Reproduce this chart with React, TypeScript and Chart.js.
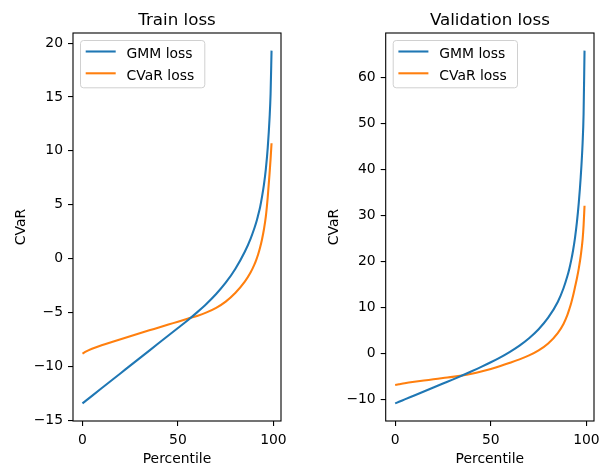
import React, { useEffect, useRef } from 'react';
import { Chart, registerables } from 'chart.js';

Chart.register(...registerables);

// ---- data ----
const PERCENTILES = [0, 2, 5, 10, 15, 20, 25, 30, 35, 40, 45, 50, 55, 60, 65, 70, 75, 80, 85, 88, 90, 91, 92, 93, 94, 95, 96, 97, 98, 98.5, 99];
const TRAIN_GMM = [-13.45, -13.17, -12.75, -12.05, -11.35, -10.65, -9.95, -9.25, -8.55, -7.85, -7.15, -6.45, -5.75, -5.0, -4.2, -3.3, -2.25, -0.97, 0.63, 1.83, 2.81, 3.36, 4.04, 4.76, 5.72, 6.84, 8.28, 10.27, 13.16, 15.3, 19.3];
const TRAIN_CVAR = [-8.83, -8.62, -8.38, -8.06, -7.77, -7.49, -7.21, -6.94, -6.67, -6.4, -6.13, -5.87, -5.6, -5.33, -5.0, -4.58, -4.0, -3.2, -2.15, -1.31, -0.57, -0.12, 0.4, 1.02, 1.77, 2.69, 3.89, 5.69, 7.99, 9.25, 10.7];
const VAL_GMM = [-10.8, -10.46, -9.94, -9.08, -8.22, -7.36, -6.5, -5.64, -4.74, -3.82, -2.87, -1.87, -0.8, 0.4, 1.75, 3.35, 5.3, 7.8, 11.2, 14.2, 16.8, 18.35, 20.2, 22.4, 25.1, 28.5, 32.8, 38.3, 45.8, 52.0, 65.8];
const VAL_CVAR = [-6.8, -6.65, -6.43, -6.12, -5.84, -5.58, -5.3, -5.05, -4.75, -4.35, -3.87, -3.32, -2.7, -2.0, -1.25, -0.38, 0.72, 2.22, 4.47, 6.45, 8.35, 9.6, 10.95, 12.55, 14.4, 16.3, 18.5, 21.2, 24.8, 27.8, 32.1];

const X_TICKS = [0, 50, 100];
const TRAIN_Y_TICKS = [-15, -10, -5, 0, 5, 10, 15, 20];
const VAL_Y_TICKS = [-10, 0, 10, 20, 30, 40, 50, 60];
const SERIES_LABELS = ['GMM loss', 'CVaR loss'];
const TITLES = ['Train loss', 'Validation loss'];
const X_LABEL = 'Percentile';
const Y_LABEL = 'CVaR';
const COLORS = ['#1f77b4', '#ff7f0e'];

// ---- styling ----
const W = 300;
const H = 466;
const FONT = '"DejaVu Sans", "Liberation Sans", sans-serif';
const TICK_PX = 13.9;
const TITLE_PX = 16.7;

const fmt = (v: number) => (v < 0 ? '\u2212' + Math.abs(v) : String(v));

function limits(arrs: number[][]) {
  let mn = Infinity;
  let mx = -Infinity;
  arrs.forEach((a) => a.forEach((v) => { mn = Math.min(mn, v); mx = Math.max(mx, v); }));
  const m = (mx - mn) * 0.05;
  return [mn - m, mx + m];
}

type Area = { left: number; top: number; right: number; bottom: number };
type Panel = {
  title: string;
  gmm: number[];
  cvar: number[];
  yTicks: number[];
  area: Area;
  yLabelX: number;
};

function decorPlugin(p: Panel) {
  return {
    id: 'decor',
    afterDraw(chart: any) {
      const ctx = chart.ctx as CanvasRenderingContext2D;
      const a = chart.chartArea;
      ctx.save();
      // frame
      ctx.strokeStyle = '#000';
      ctx.lineWidth = 1.1;
      ctx.strokeRect(a.left, a.top, a.right - a.left, a.bottom - a.top);
      // title
      ctx.fillStyle = '#000';
      ctx.font = `${TITLE_PX}px ${FONT}`;
      ctx.textAlign = 'center';
      ctx.textBaseline = 'alphabetic';
      ctx.fillText(p.title, (a.left + a.right) / 2, a.top - 8.5);
      // x label
      ctx.font = `${TICK_PX}px ${FONT}`;
      ctx.fillText(X_LABEL, (a.left + a.right) / 2, 462.5);
      // y label
      ctx.save();
      ctx.translate(p.yLabelX, (a.top + a.bottom) / 2);
      ctx.rotate(-Math.PI / 2);
      ctx.textAlign = 'center';
      ctx.textBaseline = 'alphabetic';
      ctx.fillText(Y_LABEL, 0, 0);
      ctx.restore();
      // legend
      const bx = a.left + 7;
      const by = 40;
      const bw = 124.3;
      const bh = 47.3;
      ctx.beginPath();
      (ctx as any).roundRect(bx + 0.5, by + 0.5, bw, bh, 3);
      ctx.fillStyle = 'rgba(255,255,255,0.8)';
      ctx.fill();
      ctx.strokeStyle = '#d0d0d0';
      ctx.lineWidth = 1;
      ctx.stroke();
      const rows = [51.5, 73.3];
      SERIES_LABELS.forEach((lab, i) => {
        ctx.strokeStyle = COLORS[i];
        ctx.lineWidth = 2.08;
        ctx.beginPath();
        ctx.moveTo(a.left + 12.7, rows[i]);
        ctx.lineTo(a.left + 42.7, rows[i]);
        ctx.stroke();
        ctx.fillStyle = '#000';
        ctx.font = `${TICK_PX}px ${FONT}`;
        ctx.textAlign = 'left';
        ctx.textBaseline = 'alphabetic';
        ctx.fillText(lab, a.left + 53.6, rows[i] + 6.2);
      });
      ctx.restore();
    },
  };
}

function makeConfig(p: Panel): any {
  const [xMin, xMax] = limits([PERCENTILES]);
  const [yMin, yMax] = limits([p.gmm, p.cvar]);
  const tickFont = { family: FONT, size: TICK_PX };
  const ds = (label: string, vals: number[], color: string) => ({
    label,
    data: PERCENTILES.map((x, i) => ({ x, y: vals[i] })),
    borderColor: color,
    backgroundColor: color,
    borderWidth: 2.08,
    pointRadius: 0,
    fill: false,
    cubicInterpolationMode: 'monotone',
  });
  return {
    type: 'line',
    data: {
      datasets: [ds(SERIES_LABELS[0], p.gmm, COLORS[0]), ds(SERIES_LABELS[1], p.cvar, COLORS[1])],
    },
    options: {
      animation: false,
      responsive: false,
      maintainAspectRatio: false,
      layout: { padding: { left: 0, top: p.area.top, right: W - p.area.right, bottom: 0 } },
      plugins: { legend: { display: false }, title: { display: false }, tooltip: { enabled: false } },
      events: [],
      scales: {
        x: {
          type: 'linear',
          min: xMin,
          max: xMax,
          afterBuildTicks: (s: any) => { s.ticks = X_TICKS.map((v) => ({ value: v })); },
          afterFit: (s: any) => { s.height = H - p.area.bottom; s.paddingLeft = 0; s.paddingRight = 0; },
          ticks: { callback: (v: any) => fmt(Number(v)), color: '#000', font: tickFont, padding: 6, maxRotation: 0, autoSkip: false },
          grid: { drawOnChartArea: false, drawTicks: true, tickLength: 5, color: '#000', lineWidth: 1.1 },
          border: { display: false },
        },
        y: {
          type: 'linear',
          min: yMin,
          max: yMax,
          afterBuildTicks: (s: any) => { s.ticks = p.yTicks.map((v) => ({ value: v })); },
          afterFit: (s: any) => { s.width = p.area.left; s.paddingTop = 0; s.paddingBottom = 0; },
          ticks: { callback: (v: any) => fmt(Number(v)), color: '#000', font: tickFont, padding: 5, autoSkip: false },
          grid: { drawOnChartArea: false, drawTicks: true, tickLength: 5, color: '#000', lineWidth: 1.1 },
          border: { display: false },
        },
      },
    },
    plugins: [decorPlugin(p)],
  };
}

const PANELS: Panel[] = [
  { title: TITLES[0], gmm: TRAIN_GMM, cvar: TRAIN_CVAR, yTicks: TRAIN_Y_TICKS, area: { left: 73, top: 33, right: 281, bottom: 421 }, yLabelX: 24.8 },
  { title: TITLES[1], gmm: VAL_GMM, cvar: VAL_CVAR, yTicks: VAL_Y_TICKS, area: { left: 85.7, top: 33, right: 294, bottom: 421 }, yLabelX: 38.2 },
];

function PanelChart({ panel, left }: { panel: Panel; left: number }) {
  const ref = useRef<HTMLCanvasElement | null>(null);
  useEffect(() => {
    if (!ref.current) return;
    const chart = new Chart(ref.current, makeConfig(panel));
    return () => chart.destroy();
  }, [panel]);
  return (
    <canvas
      ref={ref}
      width={W}
      height={H}
      style={{ position: 'absolute', left, top: 0, width: W, height: H }}
    />
  );
}

export default function App() {
  return (
    <div style={{ position: 'absolute', left: 0, top: 0, width: 600, height: 466, background: '#fff', overflow: 'hidden' }}>
      <PanelChart panel={PANELS[0]} left={0} />
      <PanelChart panel={PANELS[1]} left={300} />
    </div>
  );
}
